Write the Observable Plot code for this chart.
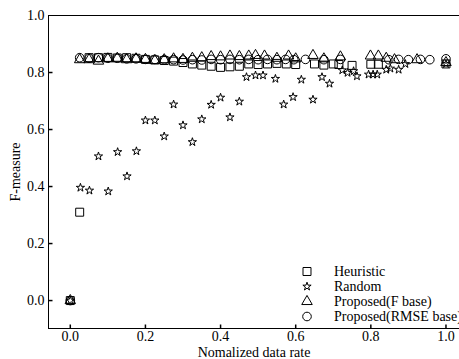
<!DOCTYPE html>
<html>
<head>
<meta charset="utf-8">
<script src="https://cdn.jsdelivr.net/npm/d3@7"></script>
<script src="https://cdn.jsdelivr.net/npm/@observablehq/plot@0.6"></script>
<style>
  body { margin: 0; background: #fff; }
  #wrap { position: relative; width: 459px; height: 359px; overflow: hidden; }
  #wrap svg text { font-family: "Liberation Serif", serif !important; font-size: 14px !important; fill: #000; }
  #legend { position: absolute; left: 299px; top: 264px; font-family: "Liberation Serif", serif; font-size: 14px; color: #000; }
  .row { height: 15px; line-height: 15px; display: flex; align-items: center; white-space: nowrap; }
  .row svg { width: 16px; height: 15px; margin-right: 19px; }
</style>
</head>
<body>
<div id="wrap"><div id="legend"></div></div>
<script>
// ---- data ----
const xTicks = [0.0, 0.2, 0.4, 0.6, 0.8, 1.0];
const yTicks = [0.0, 0.2, 0.4, 0.6, 0.8, 1.0];
const xDomain = [-0.058, 1.036];
const yDomain = [-0.098, 1.0];

const heurX = [0, 0.025, 0.05, 0.075, 0.1, 0.125, 0.15, 0.175, 0.2, 0.225, 0.25, 0.275, 0.3, 0.325, 0.35, 0.375, 0.4, 0.425, 0.45, 0.475, 0.5, 0.525, 0.55, 0.575, 0.6, 0.65, 0.675, 0.7, 0.715, 0.75, 0.8, 0.82, 1.0];
const heurY = [0, 0.31, 0.852, 0.852, 0.853, 0.851, 0.852, 0.85, 0.846, 0.844, 0.842, 0.84, 0.835, 0.83, 0.826, 0.822, 0.818, 0.82, 0.822, 0.83, 0.828, 0.83, 0.832, 0.83, 0.828, 0.83, 0.826, 0.83, 0.828, 0.825, 0.829, 0.829, 0.83];

const randX = [0, 0.027, 0.051, 0.075, 0.101, 0.126, 0.151, 0.176, 0.2, 0.225, 0.25, 0.275, 0.3, 0.325, 0.35, 0.375, 0.4, 0.425, 0.45, 0.469, 0.493, 0.513, 0.546, 0.568, 0.593, 0.615, 0.646, 0.67, 0.69, 0.724, 0.738, 0.754, 0.763, 0.794, 0.806, 0.817, 0.841, 0.852, 0.874, 0.892, 1.0];
const randY = [0, 0.396, 0.386, 0.506, 0.383, 0.521, 0.436, 0.524, 0.632, 0.632, 0.576, 0.688, 0.615, 0.556, 0.636, 0.687, 0.712, 0.643, 0.698, 0.784, 0.79, 0.79, 0.778, 0.688, 0.714, 0.775, 0.705, 0.784, 0.761, 0.808, 0.799, 0.805, 0.787, 0.793, 0.793, 0.793, 0.81, 0.814, 0.81, 0.83, 0.83];

const fX = [0, 0.025, 0.05, 0.075, 0.1, 0.125, 0.15, 0.175, 0.2, 0.225, 0.25, 0.275, 0.3, 0.325, 0.35, 0.375, 0.4, 0.425, 0.45, 0.475, 0.493, 0.517, 0.55, 0.581, 0.6, 0.646, 0.675, 0.719, 0.799, 0.82, 0.841, 0.863, 0.923, 1.0];
const fY = [0, 0.845, 0.845, 0.84, 0.848, 0.85, 0.845, 0.848, 0.846, 0.842, 0.845, 0.848, 0.846, 0.85, 0.852, 0.856, 0.855, 0.858, 0.856, 0.858, 0.86, 0.858, 0.85, 0.858, 0.848, 0.86, 0.848, 0.855, 0.858, 0.858, 0.85, 0.845, 0.845, 0.835];

const rX = [0, 0.025, 0.05, 0.075, 0.1, 0.125, 0.15, 0.175, 0.2, 0.225, 0.25, 0.275, 0.3, 0.325, 0.35, 0.375, 0.4, 0.425, 0.45, 0.475, 0.5, 0.525, 0.55, 0.573, 0.595, 0.626, 0.675, 0.719, 0.848, 0.874, 0.9, 0.932, 0.957, 1.0];
const rY = [0, 0.852, 0.85, 0.852, 0.85, 0.85, 0.848, 0.848, 0.846, 0.846, 0.845, 0.845, 0.844, 0.845, 0.844, 0.846, 0.845, 0.846, 0.845, 0.846, 0.845, 0.846, 0.845, 0.846, 0.845, 0.846, 0.845, 0.846, 0.845, 0.846, 0.845, 0.846, 0.845, 0.848];

const seriesNames = ["Heuristic", "Random", "Proposed(F base)", "Proposed(RMSE base)"];
const seriesSymbols = ["square", "star", "triangle", "circle"];
const seriesR = [4.5, 2.6, 3.9, 4.3];

// ---- build ----
const zip = (xs, ys) => xs.map((x, i) => ({x, y: ys[i]}));
const sets = [zip(heurX, heurY), zip(randX, randY), zip(fX, fY), zip(rX, rY)];

// inward tick shapes
const tickUp = {draw(ctx) { ctx.moveTo(0, 0); ctx.lineTo(0, -4); }};
const tickRight = {draw(ctx) { ctx.moveTo(0, 0); ctx.lineTo(4, 0); }};

const font = "Liberation Serif";
const chart = Plot.plot({
  width: 459,
  height: 359,
  marginLeft: 48,
  marginRight: 0,
  marginTop: 15,
  marginBottom: 31,
  style: {fontFamily: font, fontSize: "14px", color: "#000", background: "#fff", overflow: "hidden"},
  x: {domain: xDomain},
  y: {domain: yDomain},
  marks: [
    Plot.axisX({ticks: xTicks, tickFormat: d3.format(".1f"), tickSize: 0, tickPadding: 3,
      label: "Nomalized data rate", labelAnchor: "center", labelArrow: "none", labelOffset: 28, fontFamily: font}),
    Plot.axisY({ticks: yTicks, tickFormat: d3.format(".1f"), tickSize: 0, tickPadding: 4,
      label: "F-measure", labelAnchor: "center", labelArrow: "none", labelOffset: 38, fontFamily: font}),
    Plot.ruleY([yDomain[1]], {stroke: "black"}),
    Plot.ruleY([yDomain[0]], {stroke: "black"}),
    Plot.ruleX([xDomain[0]], {stroke: "black"}),
    Plot.dot(xTicks, {x: d => d, frameAnchor: "bottom", symbol: tickUp, stroke: "black", r: 4}),
    Plot.dot(yTicks.slice(0, -1), {y: d => d, frameAnchor: "left", symbol: tickRight, stroke: "black", r: 4}),
    ...sets.map((data, i) => Plot.dot(data, {x: "x", y: "y", symbol: seriesSymbols[i], r: seriesR[i], stroke: "black", strokeWidth: 1, fill: "none"}))
  ]
});
document.getElementById("wrap").prepend(chart);

// legend
const leg = document.getElementById("legend");
const symMap = {square: d3.symbolSquare, star: d3.symbolStar, triangle: d3.symbolTriangle, circle: d3.symbolCircle};
seriesNames.forEach((name, i) => {
  const row = document.createElement("div");
  row.className = "row";
  const size = Math.PI * seriesR[i] * seriesR[i];
  const p = d3.symbol(symMap[seriesSymbols[i]], size)();
  row.innerHTML = `<svg viewBox="-8 -7.5 16 15"><path d="${p}" fill="none" stroke="black" stroke-width="1"/></svg><span>${name}</span>`;
  leg.appendChild(row);
});
</script>
</body>
</html>
